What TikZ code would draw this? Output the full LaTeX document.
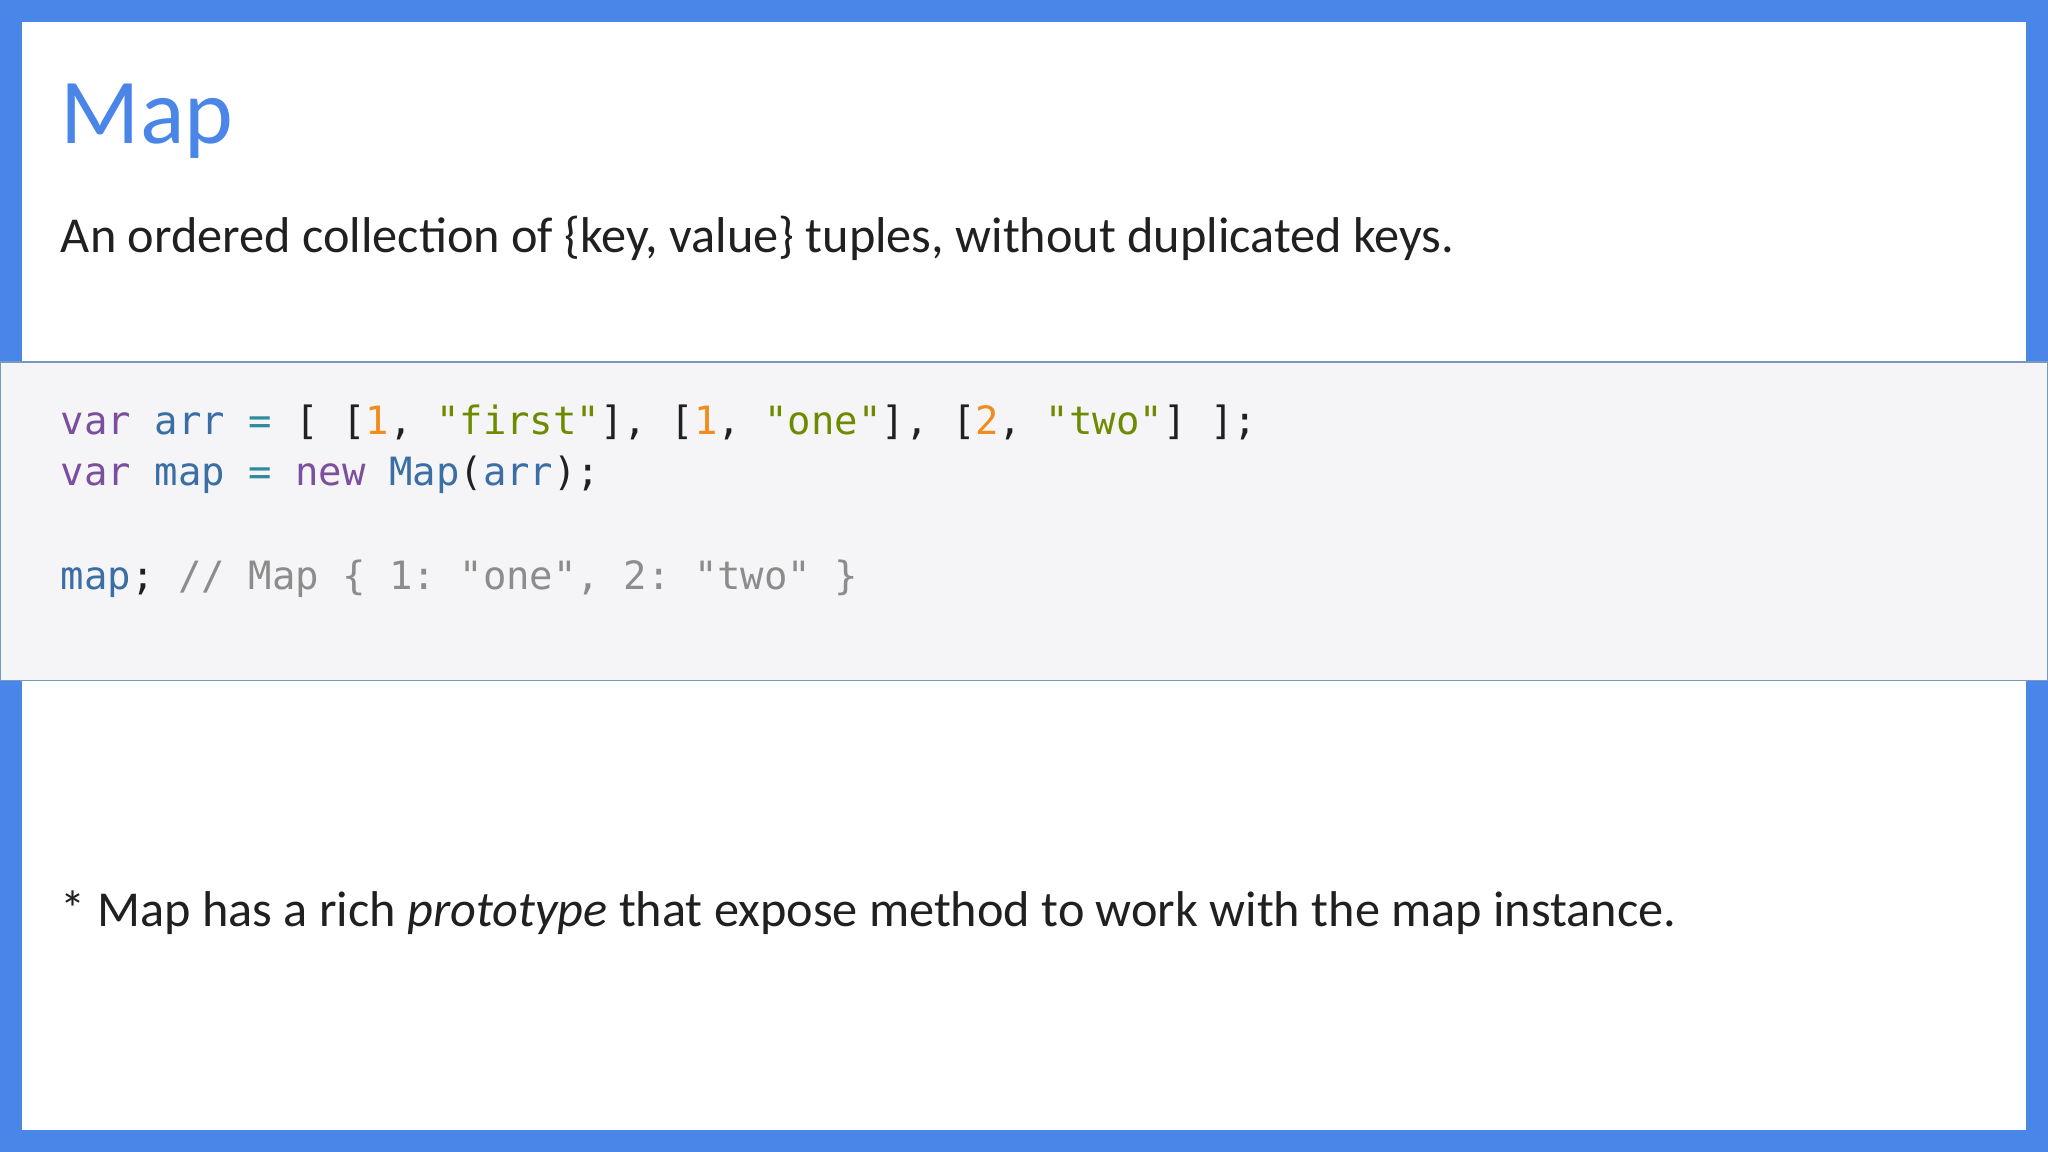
\documentclass[tikz,border=0pt]{standalone}
\usepackage{fontspec}
\setmainfont{Carlito}
\setmonofont{DejaVu Sans Mono}
\definecolor{frameblue}{HTML}{4A86E8}
\definecolor{titleblue}{HTML}{4A86E8}
\definecolor{codebg}{HTML}{F5F5F7}
\definecolor{kw}{HTML}{7B4F9D}
\definecolor{idf}{HTML}{3A6EA5}
\definecolor{op}{HTML}{2E8B9A}
\definecolor{num}{HTML}{F08C1E}
\definecolor{str}{HTML}{6E8B00}
\definecolor{cmt}{HTML}{8C8C8C}
\definecolor{txt}{HTML}{202020}
\tikzset{
  txtline/.style={anchor=base west,inner sep=0pt,text=txt},
  codeline/.style={anchor=base west,inner sep=0pt,font=\ttfamily\fontsize{8.48}{10}\selectfont,text=txt}
}
\begin{document}
\begin{tikzpicture}[x=0.01cm,y=-0.01cm]
\useasboundingbox (0,0) rectangle (1568,882);
\fill[frameblue] (0,0) rectangle (1568,882);
\fill[white] (17,17) rectangle (1551,865);
\fill[codebg,draw=idf!70,line width=0.4pt] (0,277) rectangle (1568,521);
\node[txtline,text=titleblue,font=\fontsize{20.2}{24}\selectfont] (title) at (46,110) {Map};
\node[txtline,font=\fontsize{10.95}{13}\selectfont] (desc) at (46,193) {An ordered collection of \{key, value\} tuples, without duplicated keys.};
\node[codeline] (c1) at (46,333) {\textcolor{kw}{var} \textcolor{idf}{arr} \textcolor{op}{=} [ [\textcolor{num}{1}, \textcolor{str}{"first"}], [\textcolor{num}{1}, \textcolor{str}{"one"}], [\textcolor{num}{2}, \textcolor{str}{"two"}] ];};
\node[codeline] (c2) at (46,372) {\textcolor{kw}{var} \textcolor{idf}{map} \textcolor{op}{=} \textcolor{kw}{new} \textcolor{idf}{Map}(\textcolor{idf}{arr});};
\node[codeline] (c3) at (46,451) {\textcolor{idf}{map}; \textcolor{cmt}{// Map \{ 1: "one", 2: "two" \}}};
\node[txtline,font=\fontsize{10.95}{13}\selectfont] (note) at (46,709) {* Map has a rich \textit{prototype} that expose method to work with the map instance.};
\end{tikzpicture}
\end{document}
